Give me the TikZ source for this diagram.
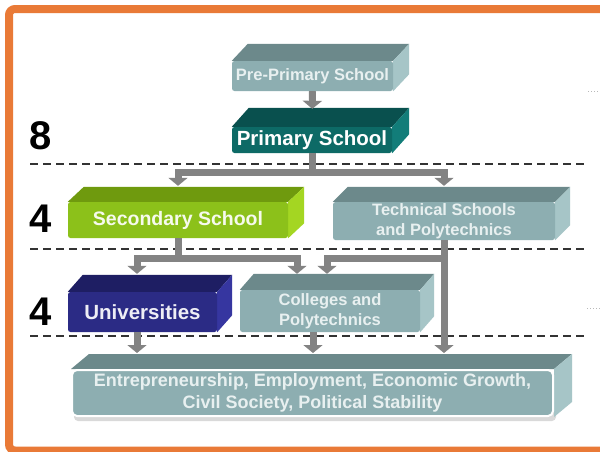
\documentclass[tikz,border=0pt]{standalone}
\usepackage{fontspec}
\setmainfont{Liberation Sans}
\usetikzlibrary{arrows.meta,calc}
\pgfdeclarelayer{bg}
\pgfsetlayers{bg,main}
\definecolor{frame}{HTML}{E97A37}
\definecolor{tgfront}{HTML}{8DAEB1}
\definecolor{tgtop}{HTML}{6C898B}
\definecolor{tgside}{HTML}{A6C5C7}
\definecolor{tgtext}{HTML}{E8F0F0}
\definecolor{prfront}{HTML}{0D6A66}
\definecolor{prtop}{HTML}{09504E}
\definecolor{prside}{HTML}{127D79}
\definecolor{sefront}{HTML}{8CC11A}
\definecolor{setop}{HTML}{6F9A0E}
\definecolor{seside}{HTML}{A4D622}
\definecolor{unfront}{HTML}{2B2B85}
\definecolor{untop}{HTML}{1E1E63}
\definecolor{unside}{HTML}{3636A0}
\definecolor{cgrey}{HTML}{838383}
\definecolor{dashc}{HTML}{333333}
\newcommand\fsz[2]{\fontsize{#1}{#2}\selectfont\bfseries}
\newcommand\threedfaces[5]{%
  \begin{pgfonlayer}{bg}
    \fill[#4] (#1.north west) -- ++(#2,-#3) -- ($(#1.north east)+(#2,-#3)$) -- (#1.north east) -- cycle;
    \fill[#5] (#1.north east) -- ++(#2,-#3) -- ($(#1.south east)+(#2,-#3)$) -- (#1.south east) -- cycle;
  \end{pgfonlayer}}
\tikzset{
  face/.style={rounded corners=2.5pt, inner sep=0pt, align=center},
  tgbox/.style={face, fill=tgfront, text=tgtext},
  conn/.style={draw=cgrey, line width=7pt, -{Triangle[width=19pt,length=8pt]}},
  connbar/.style={draw=cgrey, line width=7pt},
  level/.style={draw=dashc, line width=2.4pt, dash pattern=on 8pt off 5pt},
  num/.style={font=\fsz{40}{40}, anchor=base, inner sep=0pt, text=black},
}
\begin{document}
\begin{tikzpicture}[x=1pt,y=-1pt]
\useasboundingbox (0,0) rectangle (600,451);
\begin{pgfonlayer}{bg}
\fill[white] (0,0) rectangle (600,451);
\draw[level] (30,164) -- (587,164);
\draw[level] (30,249) -- (587,249);
\draw[level] (30,336) -- (587,336);
\end{pgfonlayer}
% frame
\draw[frame, line width=8pt, rounded corners=6pt] (604,9) -- (9,9) -- (9,450.5) -- (604,450.5);
\draw[gray!55, dotted, line width=1pt] (588,91) -- (600,91);
\draw[gray!55, dotted, line width=1pt] (587,308) -- (600,308);
% numbers
\node[num] (n8) at (41,149) {8};
\node[num] (n4a) at (41,232) {4};
\node[num] (n4b) at (41,325) {4};
% boxes
\node[tgbox, minimum width=161pt, minimum height=30pt, font=\fsz{16.5}{20}] (pre) at (312.5,76) {Pre-Primary School};
\threedfaces{pre}{16}{17}{tgtop}{tgside}
\node[face, fill=prfront, text=white, minimum width=160pt, minimum height=26pt, font=\fsz{20.5}{24}] (prim) at (312,140) {Primary School};
\threedfaces{prim}{17}{19}{prtop}{prside}
\node[face, fill=sefront, text=white!92!sefront, minimum width=220pt, minimum height=36pt, font=\fsz{19.5}{23}] (sec) at (178,220) {Secondary School};
\threedfaces{sec}{16}{15}{setop}{seside}
\node[tgbox, minimum width=222pt, minimum height=38pt, font=\fsz{16.5}{20}] (tech) at (444,221) {Technical Schools\\and Polytechnics};
\threedfaces{tech}{15}{15}{tgtop}{tgside}
\node[face, fill=unfront, text=white!92!unfront, minimum width=149pt, minimum height=40pt, font=\fsz{20.5}{24}] (uni) at (142.5,312) {Universities};
\threedfaces{uni}{15}{17}{untop}{unside}
\node[tgbox, minimum width=180pt, minimum height=42pt, font=\fsz{16.5}{20}] (col) at (330,311) {Colleges and\\Polytechnics};
\threedfaces{col}{14}{16}{tgtop}{tgside}
\begin{pgfonlayer}{bg}
\fill[gray!30, rounded corners=4pt] (74,378) rectangle (556,421);
\end{pgfonlayer}
\node[tgbox, draw=white, line width=2pt, rounded corners=5pt, minimum width=481pt, minimum height=46pt, font=\fsz{18}{22}] (bot) at (312.5,393) {Entrepreneurship, Employment, Economic Growth,\\Civil Society, Political Stability};
\threedfaces{bot}{18}{15}{tgtop}{tgside}
% connectors
\coordinate (ux) at (137,0);
\coordinate (cx) at (313,0);
\coordinate (c1) at (297,0);
\coordinate (c2) at (327,0);
\coordinate (j1) at (prim.south |- 0,172);
\coordinate (j2) at (sec.south |- 0,258);
\coordinate (j3) at (tech.south |- 0,258);
\draw[conn, shorten >=18pt] (pre.south) -- (prim.north);
\draw[connbar] (prim.south) -- (j1);
\draw[conn, shorten >=16pt] (j1) -| (sec.north);
\draw[conn, shorten >=16pt] (j1) -| (tech.north);
\draw[connbar] (sec.south) -- (j2);
\draw[conn, shorten >=18pt] (j2) -| (uni.north -| ux);
\draw[conn, shorten >=16pt] (j2) -| (col.north -| c1);
\draw[conn, shorten >=16pt] (tech.south) -- (bot.north -| tech.south);
\draw[conn, shorten >=16pt] (j3) -| (col.north -| c2);
\draw[conn, shorten >=16pt] (uni.south -| ux) -- (bot.north -| ux);
\draw[conn, shorten >=16pt] (col.south -| cx) -- (bot.north -| cx);
\end{tikzpicture}
\end{document}
